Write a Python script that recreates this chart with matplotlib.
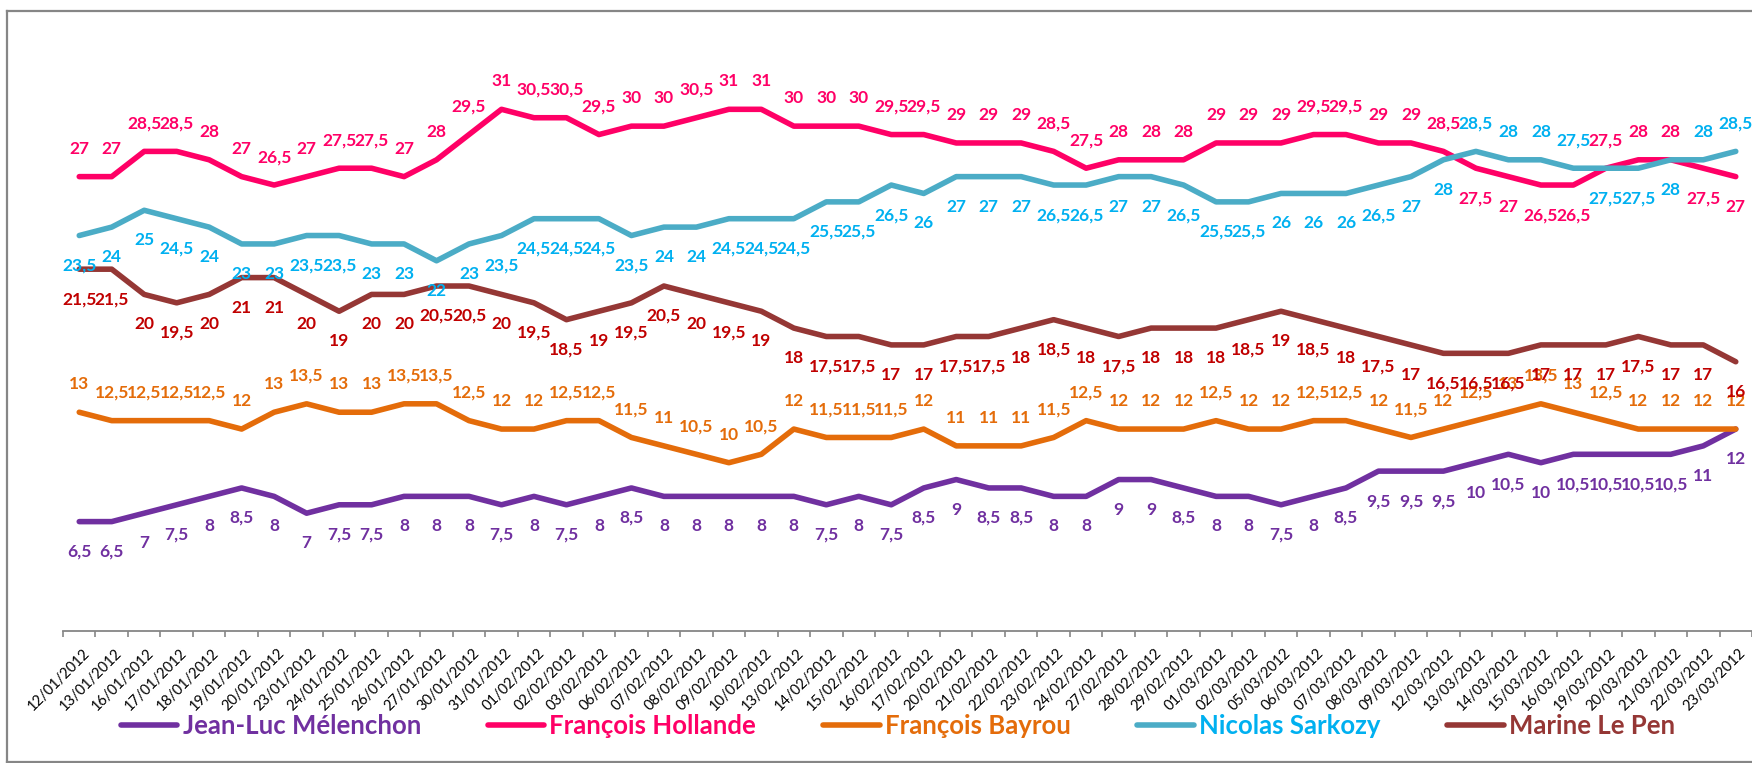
import matplotlib
matplotlib.use("Agg")
import matplotlib.pyplot as plt
import matplotlib.transforms as mtransforms
from matplotlib.lines import Line2D
import numpy as np

dates = ["12/01/2012", "13/01/2012", "16/01/2012", "17/01/2012", "18/01/2012", "19/01/2012",
         "20/01/2012", "23/01/2012", "24/01/2012", "25/01/2012", "26/01/2012", "27/01/2012",
         "30/01/2012", "31/01/2012", "01/02/2012", "02/02/2012", "03/02/2012", "06/02/2012",
         "07/02/2012", "08/02/2012", "09/02/2012", "10/02/2012", "13/02/2012", "14/02/2012",
         "15/02/2012", "16/02/2012", "17/02/2012", "20/02/2012", "21/02/2012", "22/02/2012",
         "23/02/2012", "24/02/2012", "27/02/2012", "28/02/2012", "29/02/2012", "01/03/2012",
         "02/03/2012", "05/03/2012", "06/03/2012", "07/03/2012", "08/03/2012", "09/03/2012",
         "12/03/2012", "13/03/2012", "14/03/2012", "15/03/2012", "16/03/2012", "19/03/2012",
         "20/03/2012", "21/03/2012", "22/03/2012", "23/03/2012"]

melenchon = [6.5, 6.5, 7, 7.5, 8, 8.5, 8, 7, 7.5, 7.5, 8, 8, 8, 7.5, 8, 7.5, 8, 8.5, 8, 8,
             8, 8, 8, 7.5, 8, 7.5, 8.5, 9, 8.5, 8.5, 8, 8, 9, 9, 8.5, 8, 8, 7.5, 8, 8.5,
             9.5, 9.5, 9.5, 10, 10.5, 10, 10.5, 10.5, 10.5, 10.5, 11, 12]
hollande = [27, 27, 28.5, 28.5, 28, 27, 26.5, 27, 27.5, 27.5, 27, 28, 29.5, 31, 30.5, 30.5,
            29.5, 30, 30, 30.5, 31, 31, 30, 30, 30, 29.5, 29.5, 29, 29, 29, 28.5, 27.5, 28,
            28, 28, 29, 29, 29, 29.5, 29.5, 29, 29, 28.5, 27.5, 27, 26.5, 26.5, 27.5, 28, 28,
            27.5, 27]
bayrou = [13, 12.5, 12.5, 12.5, 12.5, 12, 13, 13.5, 13, 13, 13.5, 13.5, 12.5, 12, 12, 12.5,
          12.5, 11.5, 11, 10.5, 10, 10.5, 12, 11.5, 11.5, 11.5, 12, 11, 11, 11, 11.5, 12.5,
          12, 12, 12, 12.5, 12, 12, 12.5, 12.5, 12, 11.5, 12, 12.5, 13, 13.5, 13, 12.5, 12,
          12, 12, 12]
sarkozy = [23.5, 24, 25, 24.5, 24, 23, 23, 23.5, 23.5, 23, 23, 22, 23, 23.5, 24.5, 24.5,
           24.5, 23.5, 24, 24, 24.5, 24.5, 24.5, 25.5, 25.5, 26.5, 26, 27, 27, 27, 26.5,
           26.5, 27, 27, 26.5, 25.5, 25.5, 26, 26, 26, 26.5, 27, 28, 28.5, 28, 28, 27.5,
           27.5, 27.5, 28, 28, 28.5]
lepen = [21.5, 21.5, 20, 19.5, 20, 21, 21, 20, 19, 20, 20, 20.5, 20.5, 20, 19.5, 18.5, 19,
         19.5, 20.5, 20, 19.5, 19, 18, 17.5, 17.5, 17, 17, 17.5, 17.5, 18, 18.5, 18, 17.5,
         18, 18, 18, 18.5, 19, 18.5, 18, 17.5, 17, 16.5, 16.5, 16.5, 17, 17, 17, 17.5, 17,
         17, 16]

names = ["Jean-Luc Mélenchon", "François Hollande", "François Bayrou",
         "Nicolas Sarkozy", "Marine Le Pen"]

# label side: 1 = above the line, -1 = below
melenchon_side = [-1] * 52
hollande_side = [1] * 43 + [-1, -1, -1, -1, 1, 1, 1, -1, -1]
bayrou_side = [1] * 52
sarkozy_side = [-1] * 43 + [1, 1, 1, 1, -1, -1, -1, 1, 1]
lepen_side = [-1] * 52

line_colors = ["#7030A0", "#FF0066", "#E46C0A", "#4BACC6", "#953735"]
label_colors = ["#7030A0", "#FF0066", "#E46C0A", "#00B0F0", "#C00000"]
legend_colors = ["#7030A0", "#FF0066", "#E46C0A", "#00B0F0", "#953735"]

W, H = 1752, 763
fig = plt.figure(figsize=(W / 100, H / 100), dpi=100)
fig.patch.set_facecolor("white")

y0_px, ytop_px = 631, 42
ax = fig.add_axes([63 / W, 1 - y0_px / H, (W - 63) / W, (y0_px - ytop_px) / H])
ax.set_xlim(-0.5, len(dates) - 0.5)
ax.set_ylim(0, 35)

x = np.arange(len(dates))
all_vals = [melenchon, hollande, bayrou, sarkozy, lepen]
all_sides = [melenchon_side, hollande_side, bayrou_side, sarkozy_side, lepen_side]

for vals, lc, name in zip(all_vals, line_colors, names):
    ax.plot(x, vals, color=lc, lw=4.0, solid_capstyle="round", solid_joinstyle="round",
            label=name, zorder=2)

def fmt(v):
    return f"{v:g}".replace(".", ",")

for vals, sides, tc in zip(all_vals, all_sides, label_colors):
    for i, (v, s) in enumerate(zip(vals, sides)):
        dy = 28 if s > 0 else -30
        ax.annotate(fmt(v), (i, v), xytext=(0, dy), textcoords="offset pixels",
                    ha="center", va="center", color=tc, fontsize=12.5,
                    fontweight="bold", family="Lato", zorder=5,
                    annotation_clip=False)

# axes styling
for side in ["top", "right", "left"]:
    ax.spines[side].set_visible(False)
ax.spines["bottom"].set_color("#868686")
ax.spines["bottom"].set_linewidth(1.3)
ax.set_yticks([])
ax.set_xticks(x)
ax.set_xticklabels(dates, rotation=45, ha="right", va="top", rotation_mode="anchor",
                   fontsize=10.5, family="Lato", color="black")
ax.set_xticks(np.arange(-0.5, len(dates), 1), minor=True)
ax.tick_params(axis="x", which="major", length=0, pad=11)
ax.tick_params(axis="x", which="minor", length=4, width=1.2, color="#868686", direction="out")
offset = mtransforms.ScaledTranslation(3 / 100, 0, fig.dpi_scale_trans)
for lab in ax.get_xticklabels():
    lab.set_transform(lab.get_transform() + offset)
ax.patch.set_visible(False)

# chart border (left, top, bottom)
bc = "#868686"
fig.add_artist(Line2D([7 / W, 7 / W], [1 - 11 / H, 1 - 762 / H], transform=fig.transFigure,
                      color=bc, lw=1.6))
fig.add_artist(Line2D([7 / W, 1], [1 - 11 / H, 1 - 11 / H], transform=fig.transFigure,
                      color=bc, lw=1.6))
fig.add_artist(Line2D([7 / W, 1], [1 - 762 / H, 1 - 762 / H], transform=fig.transFigure,
                      color=bc, lw=1.6))

handles = [Line2D([0], [0], color=c, lw=4.0, solid_capstyle="round") for c in line_colors]
leg = ax.legend(handles, names, loc="center", bbox_to_anchor=(898 / W, 1 - 726 / H),
                bbox_transform=fig.transFigure, ncol=5, frameon=False,
                prop=dict(family="Lato", weight="bold", size=18.5),
                handlelength=2.2, handletextpad=0.2, columnspacing=2.6)
for t, c in zip(leg.get_texts(), legend_colors):
    t.set_color(c)

fig.savefig("out.png", dpi=100, facecolor="white")
